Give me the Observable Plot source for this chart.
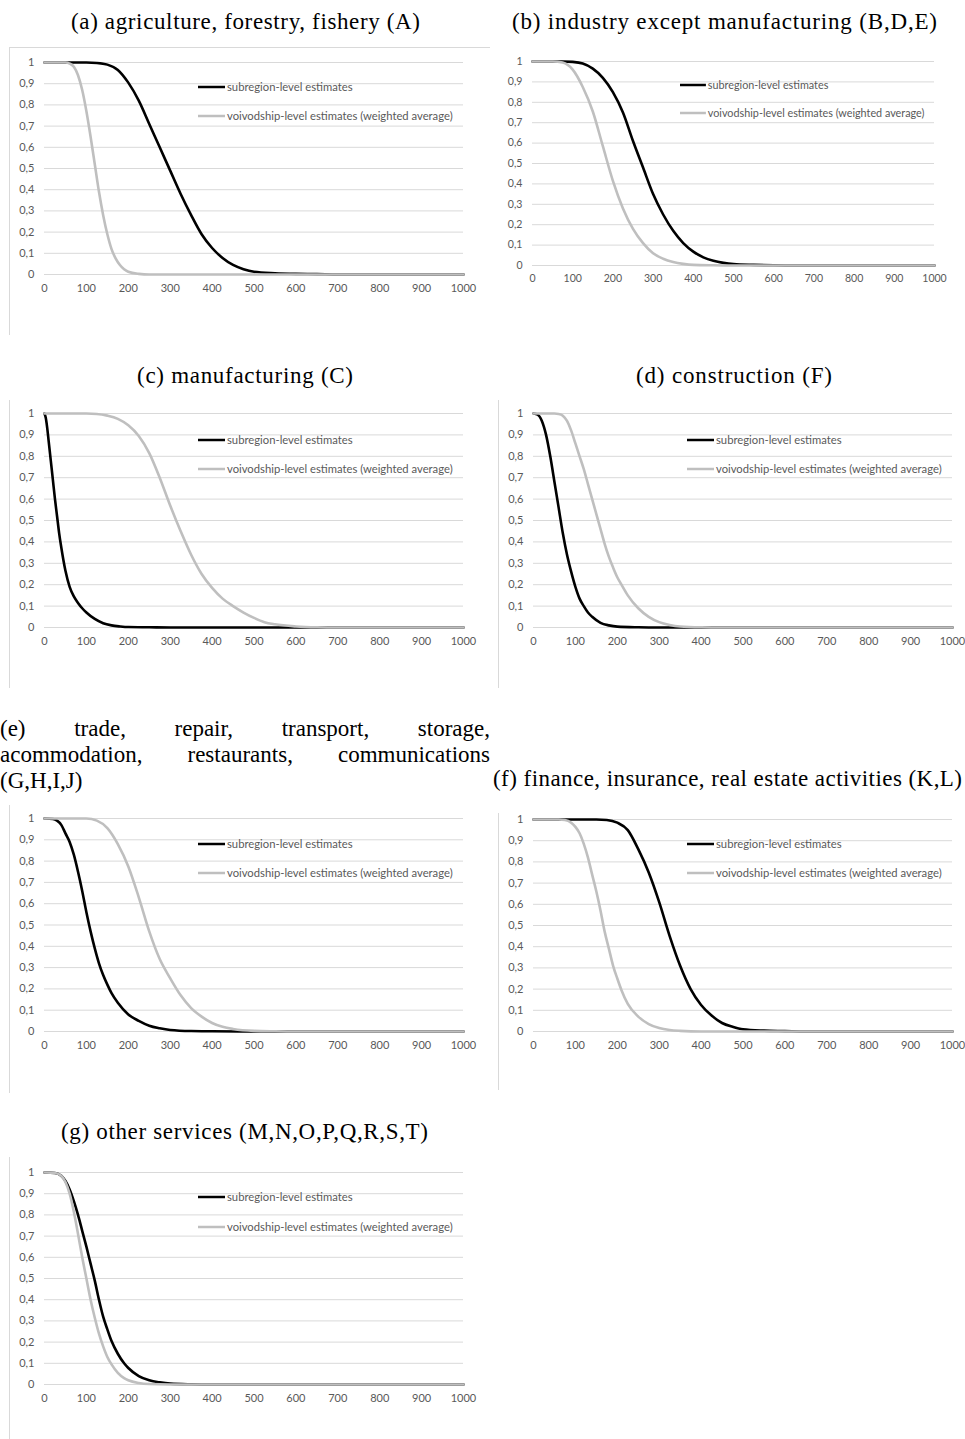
<!DOCTYPE html>
<html><head><meta charset="utf-8">
<script src="https://cdn.jsdelivr.net/npm/d3@7"></script>
<script src="https://cdn.jsdelivr.net/npm/@observablehq/plot@0.6"></script>
<style>
html,body{margin:0;padding:0;background:#fff;}
#page{position:relative;width:965px;height:1439px;overflow:hidden;background:#fff;}
.bd{position:absolute;background:#d9d9d9;}
</style></head><body><div id="page"></div>
<script>
// ---------- data ----------
const xTicks = [0,100,200,300,400,500,600,700,800,900,1000];
const yTicks = [0,0.1,0.2,0.3,0.4,0.5,0.6,0.7,0.8,0.9,1];
const seriesNames = ["subregion-level estimates","voivodship-level estimates (weighted average)"];
const titles = [
  "(a) agriculture, forestry, fishery (A)",
  "(b) industry except manufacturing (B,D,E)",
  "(c) manufacturing (C)",
  "(d) construction (F)",
  "(e) trade, repair, transport, storage, acommodation, restaurants, communications (G,H,I,J)",
  "(f) finance, insurance, real estate activities (K,L)",
  "(g) other services (M,N,O,P,Q,R,S,T)"
];

const aSub = [[0,1],[100,1],[125,0.998],[150,0.99],[175,0.965],[200,0.905],[225,0.82],[250,0.71],[275,0.6],[300,0.49],[325,0.38],[350,0.28],[375,0.19],[400,0.125],[425,0.078],[450,0.045],[475,0.025],[500,0.013],[550,0.006],[600,0.003],[650,0.002],[700,0],[1000,0]];
const aVoi = [[0,1],[50,1],[60,0.995],[70,0.98],[80,0.94],[90,0.87],[100,0.77],[110,0.65],[120,0.52],[130,0.39],[140,0.28],[150,0.19],[160,0.12],[170,0.075],[180,0.045],[190,0.025],[200,0.013],[225,0.003],[250,0],[1000,0]];

const bSub = [[0,1],[75,1],[100,0.998],[125,0.99],[150,0.965],[175,0.92],[200,0.85],[225,0.75],[250,0.61],[275,0.48],[300,0.35],[325,0.25],[350,0.17],[375,0.11],[400,0.068],[425,0.04],[450,0.023],[475,0.013],[500,0.007],[550,0.003],[600,0.001],[650,0],[1000,0]];
const bVoi = [[0,1],[50,1],[75,0.995],[100,0.96],[125,0.875],[150,0.755],[175,0.585],[200,0.415],[225,0.28],[250,0.18],[275,0.11],[300,0.06],[325,0.033],[350,0.017],[375,0.008],[400,0.003],[450,0.001],[500,0],[1000,0]];

const cSub = [[0,1],[3,0.98],[6,0.94],[10,0.87],[15,0.78],[20,0.69],[25,0.6],[30,0.52],[35,0.44],[40,0.375],[50,0.265],[60,0.19],[70,0.145],[80,0.115],[90,0.09],[100,0.07],[120,0.04],[140,0.02],[160,0.01],[180,0.005],[200,0.002],[250,0.001],[300,0],[1000,0]];
const cVoi = [[0,1],[100,1],[125,0.998],[150,0.99],[175,0.975],[200,0.945],[225,0.895],[250,0.815],[275,0.7],[300,0.57],[325,0.45],[350,0.34],[375,0.25],[400,0.185],[425,0.135],[450,0.1],[475,0.07],[500,0.045],[525,0.025],[550,0.015],[600,0.005],[650,0.001],[700,0],[1000,0]];

const dSub = [[0,1],[10,0.995],[20,0.965],[30,0.9],[40,0.8],[50,0.68],[60,0.56],[70,0.44],[80,0.34],[90,0.26],[100,0.19],[110,0.135],[120,0.1],[130,0.07],[140,0.05],[160,0.022],[180,0.01],[200,0.004],[250,0.001],[300,0],[1000,0]];
const dVoi = [[0,1],[50,1],[60,0.998],[70,0.99],[80,0.965],[90,0.92],[100,0.86],[110,0.8],[120,0.74],[130,0.67],[140,0.6],[150,0.53],[160,0.46],[170,0.39],[180,0.33],[190,0.28],[200,0.235],[210,0.2],[225,0.15],[250,0.09],[275,0.05],[300,0.025],[325,0.012],[350,0.005],[400,0.001],[450,0],[1000,0]];

const eSub = [[0,1],[20,0.998],[30,0.99],[40,0.97],[50,0.93],[60,0.89],[70,0.83],[80,0.75],[90,0.66],[100,0.56],[110,0.47],[120,0.39],[130,0.32],[140,0.265],[150,0.22],[160,0.18],[175,0.135],[200,0.08],[225,0.05],[250,0.027],[275,0.015],[300,0.007],[350,0.002],[400,0.001],[500,0],[1000,0]];
const eVoi = [[0,1],[100,1],[125,0.99],[150,0.955],[175,0.88],[200,0.775],[225,0.63],[250,0.47],[275,0.34],[300,0.25],[325,0.17],[350,0.11],[375,0.07],[400,0.04],[425,0.022],[450,0.012],[500,0.003],[550,0.001],[600,0],[1000,0]];

const fSub = [[0,1],[150,1],[175,0.998],[200,0.985],[225,0.95],[250,0.86],[275,0.75],[300,0.61],[325,0.45],[350,0.31],[375,0.2],[400,0.125],[425,0.075],[450,0.04],[475,0.022],[500,0.01],[550,0.004],[600,0.002],[650,0],[1000,0]];
const fVoi = [[0,1],[60,1],[75,0.998],[90,0.985],[100,0.965],[110,0.935],[120,0.885],[130,0.82],[140,0.74],[150,0.66],[160,0.57],[170,0.47],[180,0.39],[190,0.31],[200,0.25],[210,0.195],[225,0.13],[250,0.07],[275,0.035],[300,0.016],[325,0.007],[350,0.003],[400,0],[1000,0]];

const gSub = [[0,1],[25,0.998],[40,0.985],[50,0.96],[60,0.92],[70,0.865],[80,0.8],[90,0.725],[100,0.65],[110,0.57],[120,0.49],[130,0.4],[140,0.32],[150,0.26],[160,0.205],[175,0.145],[190,0.1],[200,0.078],[225,0.04],[250,0.02],[275,0.01],[300,0.004],[350,0.001],[400,0],[1000,0]];
const gVoi = [[0,1],[25,0.998],[40,0.985],[50,0.955],[60,0.9],[70,0.815],[80,0.71],[90,0.6],[100,0.5],[110,0.4],[120,0.315],[130,0.24],[140,0.18],[150,0.13],[160,0.095],[175,0.055],[190,0.03],[200,0.02],[225,0.007],[250,0.002],[300,0],[1000,0]];

// ---------- layout ----------
const panels = [
  {sub:aSub, voi:aVoi, box:{l:9,t:47,w:481,h:288}, bTop:true, bLeft:true, plot:{x0:44,x1:463,y1:62,y0:274}, padX:10, leg:[154,25,54],
   title:{text:titles[0], x:71, w:349, base:29}},
  {sub:bSub, voi:bVoi, box:{l:495,t:47,w:470,h:260}, bTop:false, bLeft:false, plot:{x0:532,x1:934,y1:61,y0:265}, padX:9, leg:[148,24,52],
   title:{text:titles[1], x:512, w:425, base:29}},
  {sub:cSub, voi:cVoi, box:{l:9,t:400,w:481,h:288}, bTop:false, bLeft:true, plot:{x0:44,x1:463,y1:413,y0:627}, padX:10, leg:[154,27,56],
   title:{text:titles[2], x:137, w:216, base:383}},
  {sub:dSub, voi:dVoi, box:{l:498,t:400,w:467,h:288}, bTop:false, bLeft:true, plot:{x0:533,x1:952,y1:413,y0:627}, padX:10, leg:[154,27,56],
   title:{text:titles[3], x:636, w:196, base:383}},
  {sub:eSub, voi:eVoi, box:{l:9,t:805,w:481,h:288}, bTop:false, bLeft:true, plot:{x0:44,x1:463,y1:818,y0:1031}, padX:10, leg:[154,26,55],
   title:null},
  {sub:fSub, voi:fVoi, box:{l:498,t:813,w:467,h:277}, bTop:false, bLeft:true, plot:{x0:533,x1:952,y1:819,y0:1031}, padX:10, leg:[154,25,54],
   title:{text:titles[5], x:493, w:469, base:786}},
  {sub:gSub, voi:gVoi, box:{l:9,t:1157,w:481,h:282}, bTop:false, bLeft:true, plot:{x0:44,x1:463,y1:1172,y0:1384}, padX:10, leg:[154,25,55],
   title:{text:titles[6], x:61, w:367, base:1139}}
];
// justified three-line title of panel (e)
const eWords = titles[4].split(" ");
const eLines = [
  {words: eWords.slice(0,5), x:0, w:490, base:736},
  {words: eWords.slice(5,8), x:0, w:490, base:762},
  {words: eWords.slice(8), x:0, w:null, base:788}
];

const page = document.getElementById("page");
const fmtY = d => String(d).replace(".", ",");
const fmtX = d => String(d);
const SANS = "Lato, 'Open Sans', sans-serif";
const SERIF = "'Liberation Serif', 'DejaVu Serif', serif";

for (const p of panels) {
  const {box, plot} = p;
  const sc = (plot.x1 - plot.x0) / 419;
  const chart = Plot.plot({
    width: box.w, height: box.h,
    marginLeft: plot.x0 - box.l, marginRight: box.l + box.w - plot.x1,
    marginTop: plot.y1 - box.t, marginBottom: box.t + box.h - plot.y0,
    x: {type:"linear", domain:[xTicks[0], xTicks[xTicks.length-1]]},
    y: {type:"linear", domain:[yTicks[0], yTicks[yTicks.length-1]]},
    style: {fontFamily: SANS, fontSize: (11*sc).toFixed(2)+"px", color:"#595959", background:"transparent", overflow:"visible"},
    marks: [
      Plot.ruleY(yTicks, {stroke:"#d9d9d9", strokeWidth:1}),
      Plot.axisX(xTicks, {tickSize:0, tickPadding:p.padX, label:null, tickFormat: fmtX, fill:"#595959"}),
      Plot.axisY(yTicks, {tickSize:0, tickPadding:10, label:null, tickFormat: fmtY, fill:"#595959"}),
      Plot.line(p.sub, {x:d=>d[0], y:d=>d[1], stroke:"#000000", strokeWidth:2.6, curve:"monotone-x"}),
      Plot.line(p.voi, {x:d=>d[0], y:d=>d[1], stroke:"#bfbfbf", strokeWidth:2.6, curve:"monotone-x"})
    ]
  });
  chart.style.position = "absolute";
  chart.style.left = box.l + "px";
  chart.style.top = box.t + "px";
  page.appendChild(chart);
  if (p.bTop) {
    const d = document.createElement("div"); d.className = "bd";
    Object.assign(d.style, {left: box.l+"px", top: box.t+"px", width: box.w+"px", height:"1px"});
    page.appendChild(d);
  }
  if (p.bLeft) {
    const d = document.createElement("div"); d.className = "bd";
    Object.assign(d.style, {left: box.l+"px", top: box.t+"px", width:"1px", height: box.h+"px"});
    page.appendChild(d);
  }
}

// overlay: titles and legends
const NS = "http://www.w3.org/2000/svg";
const ov = document.createElementNS(NS, "svg");
ov.setAttribute("width", 965); ov.setAttribute("height", 1439);
Object.assign(ov.style, {position:"absolute", left:"0px", top:"0px", overflow:"hidden"});
page.appendChild(ov);
function txt(str, x, y, font, size, fill) {
  const t = document.createElementNS(NS, "text");
  t.setAttribute("x", x); t.setAttribute("y", y);
  t.setAttribute("font-family", font); t.setAttribute("font-size", size);
  t.setAttribute("fill", fill);
  t.textContent = str;
  ov.appendChild(t);
  return t;
}
// title font size fitted so that title (a) has its natural width
const tprobe = txt(titles[0], 0, -50, SERIF, 20, "#000");
const TFS = Math.min(23, 20 * 349 / tprobe.getComputedTextLength());
tprobe.remove();
for (const p of panels) {
  if (!p.title) continue;
  const t = txt(p.title.text, p.title.x, p.title.base, SERIF, TFS, "#000");
  t.setAttribute("textLength", p.title.w);
  t.setAttribute("lengthAdjust", "spacing");
}
for (const line of eLines) {
  const nodes = line.words.map(w => txt(w, 0, line.base, SERIF, TFS, "#000"));
  const widths = nodes.map(n => n.getComputedTextLength());
  const total = widths.reduce((a,b)=>a+b,0);
  const gap = line.w && nodes.length > 1 ? (line.w - total)/(nodes.length-1) : 6;
  let x = line.x;
  nodes.forEach((n,i) => { n.setAttribute("x", x); x += widths[i] + gap; });
}
// legend font fitting
const probe = txt(seriesNames[1], 0, -50, SANS, 10, "#595959");
const probeW = probe.getComputedTextLength();
probe.remove();
for (const p of panels) {
  const sc = (p.plot.x1 - p.plot.x0) / 419;
  const fs = 10 * (226 * sc) / probeW;
  const lx = p.plot.x0 + p.leg[0];
  [[p.leg[1], "#000000", seriesNames[0]], [p.leg[2], "#bfbfbf", seriesNames[1]]].forEach(([dy, col, name]) => {
    const y = p.plot.y1 + dy;
    const l = document.createElementNS(NS, "line");
    l.setAttribute("x1", lx); l.setAttribute("x2", lx + 27*sc);
    l.setAttribute("y1", y); l.setAttribute("y2", y);
    l.setAttribute("stroke", col); l.setAttribute("stroke-width", 2.5);
    ov.appendChild(l);
    const t = txt(name, lx + 29*sc, y, SANS, fs, "#595959");
    t.setAttribute("dy", "0.35em");
  });
}
</script></body></html>
